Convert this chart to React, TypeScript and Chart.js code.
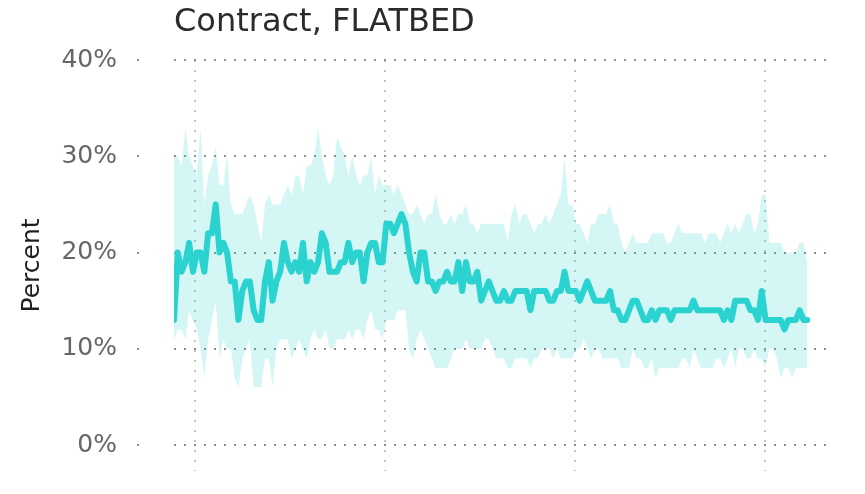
import React, { useEffect, useRef } from "react";
import { Chart, registerables } from "chart.js";

Chart.register(...registerables);

const chartTitle = "Contract, FLATBED";
const yAxisTitle = "Percent";
const yTickValues = [0, 10, 20, 30, 40];
// week indices where the yearly (vertical) gridlines fall
const yearGridWeeks = [5.5, 55.7, 105.8, 155.9];

const median = [
  13, 20, 18, 19, 21, 18, 20, 20, 18, 22, 22, 25, 20, 21, 20, 17, 17, 13, 16, 17, 17, 14, 13, 13, 17, 19, 15, 17, 18,
  21, 19, 18, 19, 18, 21, 17, 19, 18, 19, 22, 21, 18, 18, 18, 19, 19, 21, 19, 20, 20, 17, 20, 21, 21, 19, 19, 23,
  23, 22, 23, 24, 23, 20, 18, 17, 20, 20, 17, 17, 16, 17, 17, 18, 17, 17, 19, 16, 19, 17, 17, 18, 15, 16, 17, 16, 15,
  15, 16, 15, 15, 16, 16, 16, 16, 14, 16, 16, 16, 16, 15, 15, 16, 16, 18, 16, 16, 16, 15, 16, 17, 16, 15, 15, 15,
  15, 16, 14, 14, 13, 13, 14, 15, 15, 14, 13, 13, 14, 13, 14, 14, 14, 13, 14, 14, 14, 14, 14, 15, 14, 14,
  14, 14, 14, 14, 14, 13, 14, 13, 15, 15, 15, 15, 14, 14, 13, 16, 13, 13, 13, 13, 13, 12, 13, 13, 13, 14, 13, 13,
];

const upper = [
  30, 30, 29, 33, 30, 29, 28, 33, 25, 28, 29, 31, 27, 27, 30, 25, 24, 24, 24, 25, 26, 25, 23, 21, 25, 26, 25, 25, 25,
  26, 27, 26, 28, 28, 26, 29, 29, 30, 33, 30, 28, 27, 28, 32, 31, 30, 28, 30, 28, 27, 28, 28, 30, 26, 28, 27, 27,
  27, 26, 27, 26, 25, 24, 24, 25, 24, 23, 24, 24, 26, 24, 23, 23, 24, 23, 24, 24, 25, 23, 23, 22, 23, 23, 23, 23, 23,
  23, 23, 21, 24, 25, 23, 24, 24, 23, 22, 23, 23, 24, 23, 24, 25, 26, 30, 25, 25, 23, 23, 22, 21, 23, 23, 24, 24,
  24, 25, 23, 23, 21, 20, 21, 22, 21, 21, 21, 21, 22, 22, 22, 22, 21, 21, 22, 23, 22, 22, 22, 22, 22, 22,
  21, 22, 22, 22, 21, 22, 23, 22, 23, 22, 23, 24, 24, 22, 23, 26, 26, 21, 21, 21, 21, 20, 20, 20, 20, 21, 21, 19,
];

const lower = [
  11, 12, 12, 11, 14, 13, 12, 10, 7, 11, 13, 15, 9, 11, 10, 10, 7, 6, 9, 10, 11, 6, 6, 6, 9, 9, 6, 10, 11,
  11, 11, 9, 10, 11, 10, 9, 11, 12, 11, 11, 12, 10, 10, 11, 11, 11, 12, 11, 12, 12, 11, 13, 14, 12, 12, 11, 13,
  13, 13, 14, 14, 14, 10, 9, 11, 12, 11, 10, 9, 8, 8, 8, 8, 9, 10, 10, 10, 11, 10, 10, 10, 10, 11, 11, 10, 9,
  9, 9, 8, 8, 9, 9, 9, 9, 8, 9, 9, 10, 10, 10, 9, 10, 9, 9, 9, 9, 10, 10, 11, 10, 9, 10, 10, 9,
  9, 9, 9, 9, 8, 8, 8, 10, 9, 9, 8, 8, 9, 7, 8, 8, 8, 8, 8, 8, 9, 9, 8, 10, 9, 8,
  8, 8, 8, 9, 9, 8, 9, 10, 8, 10, 10, 9, 9, 10, 9, 9, 8, 10, 10, 9, 7, 8, 8, 7, 8, 8, 8, 8,
];

export default function App() {
  const canvasRef = useRef<HTMLCanvasElement>(null);

  useEffect(() => {
    const weeks = median.map((_, i) => i);
    const chart = new Chart(canvasRef.current!, {
      type: "line",
      data: {
        labels: weeks,
        datasets: [
          {
            data: upper,
            fill: "+1",
            backgroundColor: "rgba(42,210,205,0.2)",
            borderWidth: 0,
            pointRadius: 0,
            order: 2,
          },
          {
            data: lower,
            fill: false,
            borderWidth: 0,
            pointRadius: 0,
            order: 3,
          },
          {
            data: median,
            fill: false,
            borderColor: "#2ad3d0",
            borderWidth: 6,
            borderJoinStyle: "round",
            borderCapStyle: "round",
            pointRadius: 0,
            tension: 0,
            order: 1,
          },
        ],
      },
      options: {
        animation: false,
        responsive: false,
        maintainAspectRatio: false,
        layout: { padding: { left: 8, right: 35, top: 0, bottom: 23 } },
        plugins: {
          legend: { display: false },
          tooltip: { enabled: false },
          title: {
            display: true,
            text: chartTitle,
            align: "start",
            fullSize: false,
            color: "#2b2b2b",
            font: { family: "DejaVu Sans", size: 32, weight: "normal", lineHeight: 1.2 },
            padding: { top: 3, bottom: 18.6 },
          },
        },
        scales: {
          x: {
            type: "linear",
            min: 0,
            max: 173,
            afterBuildTicks: (s: any) => {
              s.ticks = yearGridWeeks.map((v) => ({ value: v }));
            },
            afterFit: (s: any) => {
              s.height = 0;
              s.paddingLeft = 0;
              s.paddingRight = 0;
            },
            ticks: { display: false },
            grid: { color: "#c4c4c4", lineWidth: 2, drawTicks: false },
            border: { display: false, dash: [2, 8] },
          },
          y: {
            min: -2.7,
            max: 40,
            afterBuildTicks: (s: any) => {
              s.ticks = yTickValues.map((v) => ({ value: v }));
            },
            afterFit: (s: any) => {
              s.width = 166;
              s.paddingTop = 0;
              s.paddingBottom = 0;
            },
            ticks: {
              callback: (v: any) => v + "%",
              color: "#666666",
              font: { family: "DejaVu Sans", size: 25 },
              padding: 20,
            },
            grid: {
              color: "#8c8c8c",
              lineWidth: 2,
              tickLength: 37,
              tickColor: "#8c8c8c",
              tickWidth: 2,
              tickBorderDash: [2, 100],
            },
            border: { display: false, dash: [2, 8] },
            title: {
              display: true,
              text: yAxisTitle,
              color: "#1e1e1e",
              font: { family: "DejaVu Sans", size: 25 },
              padding: { top: 9, bottom: 0 },
            },
          },
        },
      },
    });
    return () => chart.destroy();
  }, []);

  return (
    <div style={{ position: "fixed", left: 0, top: 0, width: 865, height: 494, background: "#fff" }}>
      <canvas ref={canvasRef} width={865} height={494} style={{ display: "block" }} />
    </div>
  );
}
